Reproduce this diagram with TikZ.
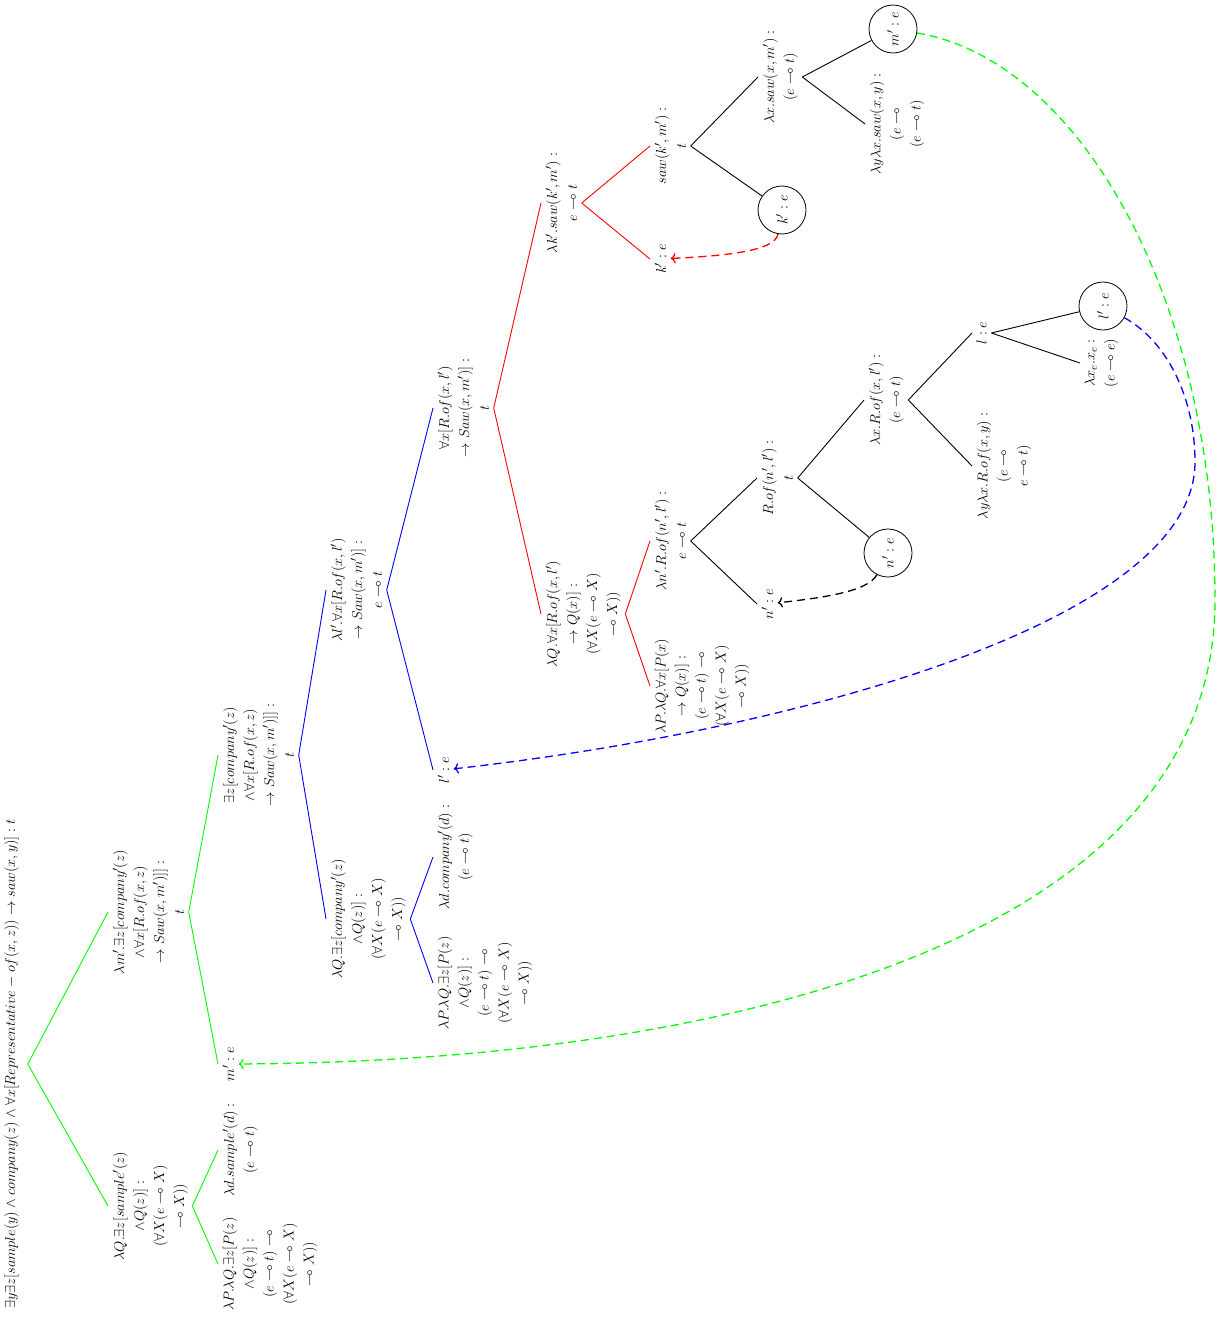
\documentclass[tikz,border=0pt]{standalone}
\usepackage{amssymb}
\usetikzlibrary{arrows.meta}
\begin{document}
\begin{tikzpicture}[x=1pt,y=-1pt,
  lbl/.style={rotate=90,anchor=north,align=center,inner xsep=3pt,inner ysep=4.5pt,font=\fontsize{15}{20}\selectfont},
  circ/.style={circle,draw,line width=0.8pt,rotate=90,minimum size=48pt,inner sep=0pt,font=\fontsize{15}{20}\selectfont},
  ge/.style={draw=green,line width=0.9pt},
  be/.style={draw=blue,line width=0.9pt},
  re/.style={draw=red,line width=0.9pt},
  ke/.style={draw=black,line width=0.9pt},
  arr/.style={line width=1.3pt,dash pattern=on 8pt off 5pt,-{To[scale=1.1]}}
]
\useasboundingbox (0,0) rectangle (1231,1335);

% root
\node[lbl,inner ysep=9pt] (root) at (-5,1064) {$\exists y\exists z[sample(y)\wedge company(z)\wedge\forall x[Representative-of(x,z))\rightarrow saw(x,y)]:t$};

% level 1
\node[lbl] (A) at (108,912) {$\lambda m'.\exists z[company'(z)$\\$\wedge\forall x[R.of(x,z)$\\$\rightarrow Saw(x,m')]]:$\\$t$};
\node[lbl] (B) at (108,1206) {$\lambda Q.\exists z[sample'(z)$\\$\wedge Q(z)]:$\\$(\forall X(e\multimap X)$\\$\multimap X))$};

% level 2
\node[lbl] (C) at (218,755) {$\exists z[company'(z)$\\$\wedge\forall x[R.of(x,z)$\\$\rightarrow Saw(x,m')]]:$\\$t$};
\node[lbl] (D) at (218,1064) {$m':e$};
\node[lbl] (E) at (218,1150) {$\lambda d.sample'(d):$\\$(e\multimap t)$};
\node[lbl] (F) at (218,1264) {$\lambda P.\lambda Q.\exists z[P(z)$\\$\wedge Q(z)]:$\\$(e\multimap t)\multimap$\\$(\forall X(e\multimap X)$\\$\multimap X))$};

% level 3
\node[lbl] (H) at (326,590) {$\lambda l'.\forall x[R.of(x,l')$\\$\rightarrow Saw(x,m')]:$\\$e\multimap t$};
\node[lbl] (G) at (326,919) {$\lambda Q.\exists z[company'(z)$\\$\wedge Q(z)]:$\\$(\forall X(e\multimap X)$\\$\multimap X))$};

% level 4
\node[lbl] (I) at (433,408) {$\forall x[R.of(x,l')$\\$\rightarrow Saw(x,m')]:$\\$t$};
\node[lbl] (J) at (433,770) {$l':e$};
\node[lbl] (K) at (433,857) {$\lambda d.company'(d):$\\$(e\multimap t)$};
\node[lbl] (L) at (433,983) {$\lambda P.\lambda Q.\exists z[P(z)$\\$\wedge Q(z)]:$\\$(e\multimap t)\multimap$\\$(\forall X(e\multimap X)$\\$\multimap X))$};

% level 5
\node[lbl] (M) at (541,203) {$\lambda k'.saw(k',m'):$\\$e\multimap t$};
\node[lbl] (N) at (541,614) {$\lambda Q.\forall x[R.of(x,l')$\\$\rightarrow Q(x)]:$\\$(\forall X(e\multimap X)$\\$\multimap X))$};

% level 6
\node[lbl] (R) at (650,146) {$saw(k',m'):$\\$t$};
\node[lbl] (Q) at (650,259) {$k':e$};
\node[lbl] (O) at (650,541) {$\lambda n'.R.of(n',l'):$\\$e\multimap t$};
\node[lbl] (P) at (650,686) {$\lambda P.\lambda Q.\forall x[P(x)$\\$\rightarrow Q(x)]:$\\$(e\multimap t)\multimap$\\$(\forall X(e\multimap X)$\\$\multimap X))$};

% level 7
\node[lbl] (T) at (758,77) {$\lambda x.saw(x,m'):$\\$(e\multimap t)$};
\node[circ] (S) at (782,210) {$k':e$};
\node[lbl] (X) at (757,478) {$R.of(n',l'):$\\$t$};
\node[lbl] (W) at (757,604) {$n':e$};

% level 8
\node[circ] (U) at (893,29) {$m':e$};
\node[lbl] (V) at (865,124) {$\lambda y\lambda x.saw(x,y):$\\$(e\multimap$\\$(e\multimap t)$};
\node[lbl] (Z) at (864,400) {$\lambda x.R.of(x,l'):$\\$(e\multimap t)$};
\node[circ] (Y) at (888,553) {$n':e$};

% level 9
\node[lbl] (AA) at (972,333) {$l:e$};
\node[lbl] (AB) at (972,466) {$\lambda y\lambda x.R.of(x,y):$\\$(e\multimap$\\$e\multimap t)$};

% level 10
\node[circ] (AC) at (1103,306) {$l':e$};
\node[lbl] (AD) at (1080,363) {$\lambda x_e.x_e:$\\$(e\multimap e)$};

% edges
\draw[ge] (root.south) -- (A.north);
\draw[ge] (root.south) -- (B.north);
\draw[ge] (A.south) -- (C.north);
\draw[ge] (A.south) -- (D.north);
\draw[ge] (B.south) -- (E.north);
\draw[ge] (B.south) -- (F.north);
\draw[be] (C.south) -- (H.north);
\draw[be] (C.south) -- (G.north);
\draw[be] (H.south) -- (I.north);
\draw[be] (H.south) -- (J.north);
\draw[be] (G.south) -- (K.north);
\draw[be] (G.south) -- (L.north);
\draw[re] (I.south) -- (M.north);
\draw[re] (I.south) -- (N.north);
\draw[re] (M.south) -- (R.north);
\draw[re] (M.south) -- (Q.north);
\draw[re] (N.south) -- (O.north);
\draw[re] (N.south) -- (P.north);
\draw[ke] (R.south) -- (T.north);
\draw[ke] (R.south) -- (S);
\draw[ke] (T.south) -- (U);
\draw[ke] (T.south) -- (V.north);
\draw[ke] (O.south) -- (X.north);
\draw[ke] (O.south) -- (W.north);
\draw[ke] (X.south) -- (Z.north);
\draw[ke] (X.south) -- (Y);
\draw[ke] (Z.south) -- (AA.north);
\draw[ke] (Z.south) -- (AB.north);
\draw[ke] (AA.south) -- (AC);
\draw[ke] (AA.south) -- (AD.north);

% dashed arrows
\draw[arr,red] (S) .. controls (775,252) and (720,256) .. (Q);
\draw[arr,black] (Y) .. controls (868,592) and (820,598) .. (W);
\draw[arr,blue] (AC) .. controls (1165,340) and (1195,395) .. (1195,462) .. controls (1195,620) and (800,730) .. (J);
\draw[arr,green] (U) .. controls (1080,60) and (1215,300) .. (1215,600) .. controls (1215,950) and (700,1062) .. (D);
\end{tikzpicture}
\end{document}
